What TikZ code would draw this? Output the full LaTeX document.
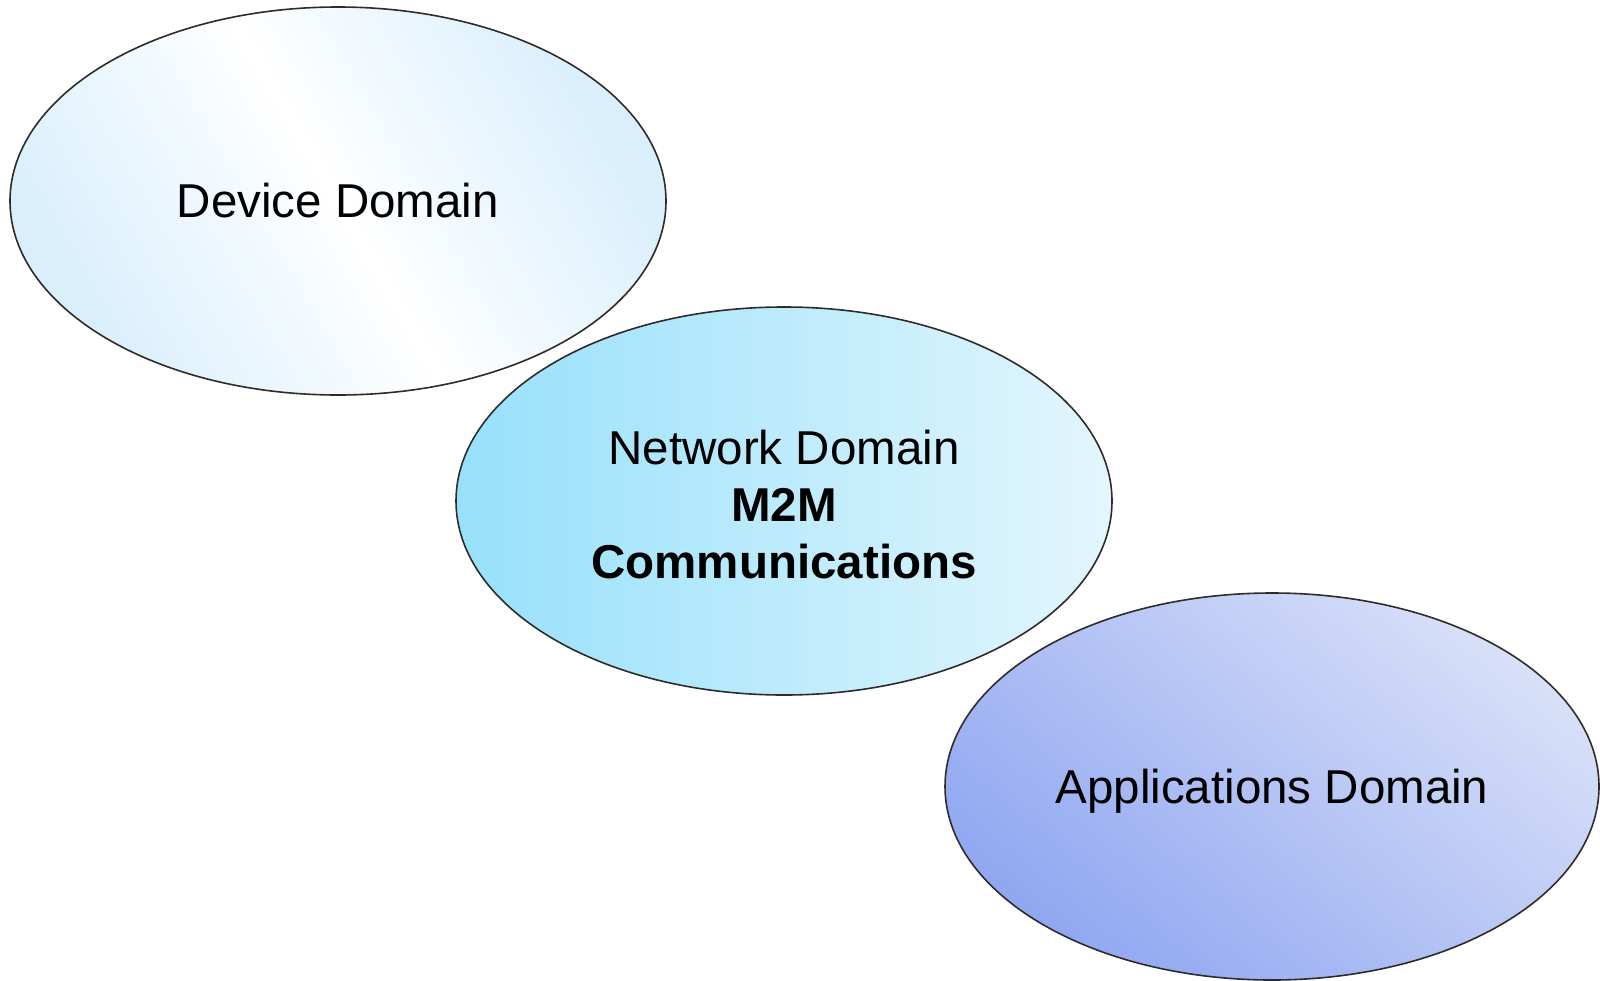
\documentclass[tikz,border=0pt]{standalone}
\usepackage{fontspec}
\setmainfont{Liberation Sans}
\usetikzlibrary{shapes.geometric}
\definecolor{devblue}{HTML}{D9EFFC}
\definecolor{netleft}{HTML}{97E0FB}
\definecolor{netright}{HTML}{E3F6FD}
\definecolor{appdark}{HTML}{90A7F1}
\definecolor{applight}{HTML}{D8E0F8}
\definecolor{edgecol}{HTML}{2F2B29}
\pgfdeclarehorizontalshading{devshade}{100bp}{color(0bp)=(devblue); color(25bp)=(devblue); color(50bp)=(white); color(75bp)=(devblue); color(100bp)=(devblue)}
\begin{document}
\begin{tikzpicture}[x=1pt,y=-1pt,
  domainblob/.style={ellipse, draw=edgecol, line width=1.6pt, inner sep=0pt, outer sep=0pt,
    minimum width=656pt, minimum height=388pt, align=center,
    font=\fontsize{47.5}{57}\selectfont}]
\useasboundingbox (0,0) rectangle (1600,980);
\node[domainblob, shading=devshade, shading angle=30] (dev) at (338,201) {Device Domain};
\node[domainblob, left color=netleft, right color=netright] (net) at (784,501)
  {\rule{0pt}{42pt}Network Domain\\\textbf{M2M}\\\textbf{Communications}};
\node[domainblob, top color=applight, bottom color=appdark, shading angle=-40, minimum width=654pt, minimum height=387pt, text depth=0pt] (app) at (1272,786.5) {Applications Domain};
\end{tikzpicture}
\end{document}
